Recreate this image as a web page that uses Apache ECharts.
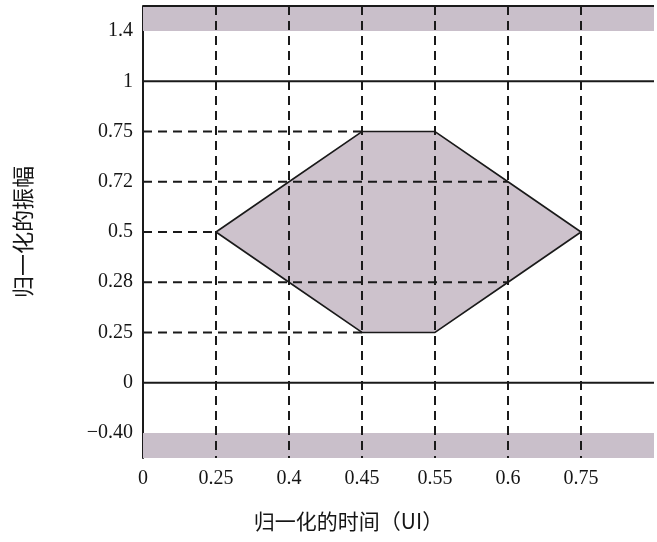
<!DOCTYPE html>
<html><head><meta charset="utf-8">
<script src="https://cdn.jsdelivr.net/npm/echarts@6/dist/echarts.min.js"></script>
<style>html,body{margin:0;padding:0;background:#fff}#c{width:657px;height:542px}</style>
</head><body><div id="c"></div>
<script>
// Categories (schematic, non-uniform tick values)
const xCategories = ['0', '0.25', '0.4', '0.45', '0.55', '0.6', '0.75', '1'];
const yCategories = ['-0.40', '0', '0.25', '0.28', '0.5', '0.72', '0.75', '1', '1.4'];
// Eye-mask hexagon vertices
const maskX = ['0.25', '0.4', '0.45', '0.55', '0.6', '0.75', '0.6', '0.55', '0.45', '0.4'];
const maskY = ['0.5', '0.72', '0.75', '0.75', '0.72', '0.5', '0.28', '0.25', '0.25', '0.28'];
// Reference levels
const solidLevels = ['1', '0'];
const guideLevels = ['0.75', '0.72', '0.5', '0.28', '0.25'];
const guideEndX = ['0.45', '0.6', '0.25', '0.6', '0.45'];
const verticalGuides = ['0.25', '0.4', '0.45', '0.55', '0.6', '0.75'];
// Forbidden bands: above upper limit, below lower limit
const upperBandFrom = '1.4';
const lowerBandFrom = '-0.40';
const hiddenXLabels = ['1'];

const NUM_FONT = '"Liberation Serif", "DejaVu Serif", serif';
const CJK_FONT = '"Noto Sans CJK SC", sans-serif';
const INK = '#1a1a1a';
const TEXT = '#151515';
const BAND = '#c9bfca';
const FILL = '#cdc2cc';
const DASH = [9, 6];

const xi = v => xCategories.indexOf(v);
const yi = v => yCategories.indexOf(v);

const chart = echarts.init(document.getElementById('c'), null, {renderer: 'canvas'});
chart.setOption({
  animation: false,
  backgroundColor: '#fff',
  grid: {left: 143, right: -10, top: 6, bottom: 84, containLabel: false},
  xAxis: {
    type: 'category', data: xCategories, boundaryGap: false,
    axisLine: {show: false}, axisTick: {show: false}, splitLine: {show: false},
    axisLabel: {interval: 0, color: TEXT, fontSize: 20, fontFamily: NUM_FONT, margin: 11,
      formatter: v => hiddenXLabels.includes(v) ? '' : v},
    name: '归一化的时间（UI）', nameLocation: 'middle', nameGap: 53,
    nameTextStyle: {fontSize: 21, fontFamily: CJK_FONT, color: TEXT, padding: [0, 100, 0, 0]}
  },
  yAxis: {
    type: 'category', data: yCategories, boundaryGap: true,
    axisLine: {show: true, lineStyle: {color: INK, width: 2}},
    axisTick: {show: false}, splitLine: {show: false},
    axisLabel: {interval: 0, color: TEXT, fontSize: 20, fontFamily: NUM_FONT, margin: 10,
      formatter: v => v.replace('-', '\u2212')},
    name: '归一化的振幅', nameLocation: 'middle', nameRotate: 90, nameGap: 109,
    nameTextStyle: {fontSize: 22, fontFamily: CJK_FONT, color: TEXT}
  },
  series: [
    {
      type: 'custom', z: 1, data: [0], silent: true,
      renderItem: (params, api) => {
        const cs = params.coordSys;
        const yTop = api.coord([0, yi(upperBandFrom)])[1];
        const yBot = api.coord([0, yi(lowerBandFrom)])[1];
        return {type: 'group', children: [
          {type: 'rect', shape: {x: cs.x, y: cs.y, width: cs.width, height: yTop - cs.y}, style: {fill: BAND}},
          {type: 'rect', shape: {x: cs.x, y: yBot, width: cs.width, height: cs.y + cs.height - yBot}, style: {fill: BAND}}
        ]};
      }
    },
    {
      type: 'custom', z: 2, data: [0], silent: true,
      renderItem: (params, api) => {
        const pts = maskX.map((x, i) => api.coord([xi(x), yi(maskY[i])]));
        return {type: 'polygon', shape: {points: pts},
          style: {fill: FILL, stroke: INK, lineWidth: 1.6, lineJoin: 'round'}};
      }
    },
    {
      type: 'custom', z: 3, data: [0], silent: true,
      renderItem: (params, api) => {
        const cs = params.coordSys;
        const children = [];
        // top border
        children.push({type: 'line', shape: {x1: cs.x, y1: cs.y, x2: cs.x + cs.width, y2: cs.y},
          style: {stroke: INK, lineWidth: 2}});
        solidLevels.forEach(l => {
          const y = api.coord([0, yi(l)])[1];
          children.push({type: 'line', shape: {x1: cs.x, y1: y, x2: cs.x + cs.width, y2: y},
            style: {stroke: INK, lineWidth: 2}});
        });
        guideLevels.forEach((l, i) => {
          const p0 = api.coord([0, yi(l)]);
          const p1 = api.coord([xi(guideEndX[i]), yi(l)]);
          children.push({type: 'line', shape: {x1: cs.x, y1: p0[1], x2: p1[0], y2: p1[1]},
            style: {stroke: INK, lineWidth: 2, lineDash: DASH}});
        });
        verticalGuides.forEach(g => {
          const x = api.coord([xi(g), 0])[0];
          children.push({type: 'line', shape: {x1: x, y1: cs.y, x2: x, y2: cs.y + cs.height},
            style: {stroke: INK, lineWidth: 2, lineDash: DASH}});
        });
        return {type: 'group', children};
      }
    }
  ]
});
</script></body></html>
